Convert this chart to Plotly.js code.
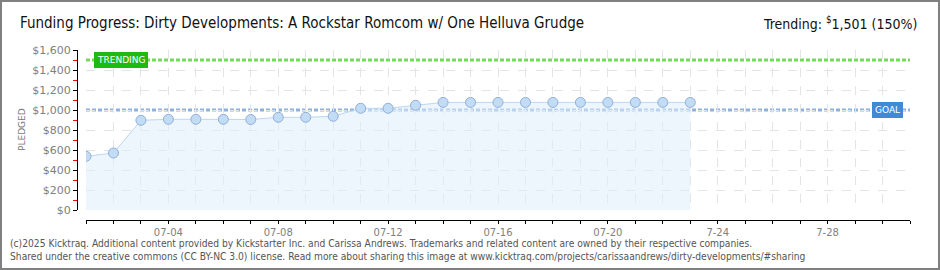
<!DOCTYPE html>
<html>
<head>
<meta charset="utf-8">
<script src="https://cdn.plot.ly/plotly-3.0.1.min.js"></script>
<style>
  html, body { margin: 0; padding: 0; background: #fff; }
  #wrap { position: relative; width: 940px; height: 270px; }
  #chart { width: 940px; height: 270px; }
  #frame { position: absolute; left: 0; top: 0; width: 940px; height: 270px; box-sizing: border-box; border: 2px solid #808080; pointer-events: none; }
</style>
</head>
<body>
<div id="wrap"><div id="chart"></div><div id="frame"></div></div>
<script>
// ---- data ----
const dates = ['2025-07-01','2025-07-02','2025-07-03','2025-07-04','2025-07-05','2025-07-06','2025-07-07','2025-07-08','2025-07-09','2025-07-10','2025-07-11','2025-07-12','2025-07-13','2025-07-14','2025-07-15','2025-07-16','2025-07-17','2025-07-18','2025-07-19','2025-07-20','2025-07-21','2025-07-22','2025-07-23'];
const pledged = [537, 570, 897, 907, 907, 907, 905, 927, 927, 937, 1017, 1017, 1047, 1076, 1076, 1076, 1076, 1076, 1076, 1076, 1076, 1076, 1076];
const goal = 1000;
const trending = 1501;
const campaignStart = '2025-07-01';
const campaignEnd = '2025-07-31';
const tickDays = ['2025-07-01','2025-07-02','2025-07-03','2025-07-04','2025-07-05','2025-07-06','2025-07-07','2025-07-08','2025-07-09','2025-07-10','2025-07-11','2025-07-12','2025-07-13','2025-07-14','2025-07-15','2025-07-16','2025-07-17','2025-07-18','2025-07-19','2025-07-20','2025-07-21','2025-07-22','2025-07-23','2025-07-24','2025-07-25','2025-07-26','2025-07-27','2025-07-28','2025-07-29','2025-07-30','2025-07-31'];
const tickLabels = [' ',' ',' ','07-04',' ',' ',' ','07-08',' ',' ',' ','07-12',' ',' ',' ','07-16',' ',' ',' ','07-20',' ',' ',' ','7-24',' ',' ',' ','7-28',' ',' ',' '];
const titleText = 'Funding Progress: Dirty Developments: A Rockstar Romcom w/ One Helluva Grudge';
const trendText = 'Trending: <sup>$</sup>1,501 (150%)';
const footer1 = '(c)2025 Kicktraq. Additional content provided by Kickstarter Inc. and Carissa Andrews. Trademarks and related content are owned by their respective companies.';
const footer2 = 'Shared under the creative commons (CC BY-NC 3.0) license. Read more about sharing this image at www.kicktraq.com/projects/carissaandrews/dirty-developments/#sharing';

const W = 940, H = 270;
const px = v => v / W;
const py = v => 1 - v / H;

const trace = {
  x: dates, y: pledged, type: 'scatter', mode: 'lines+markers',
  fill: 'tozeroy', fillcolor: 'rgba(222,236,252,0.55)',
  line: { color: '#bcd7f3', width: 1 },
  marker: { size: 10, color: '#c3dcf6', line: { color: '#90afd6', width: 1 } },
  hoverinfo: 'skip'
};

const pixFont = 'DejaVu Sans, sans-serif';
const condFont = 'DejaVu Sans Condensed, DejaVu Sans, sans-serif';

const layout = {
  width: W, height: H,
  margin: { l: 0, r: 0, t: 0, b: 0 },
  paper_bgcolor: '#fff', plot_bgcolor: '#fff',
  showlegend: false,
  xaxis: {
    type: 'date', range: [campaignStart, campaignEnd],
    domain: [px(86), px(910)], anchor: 'free', position: 1 - 220 / H,
    showline: true, linecolor: '#000', linewidth: 1,
    ticks: 'outside', ticklen: 3, tickcolor: '#000',
    tickmode: 'array', tickvals: tickDays, ticktext: tickLabels,
    tickfont: { family: pixFont, size: 10, color: '#808080' },
    showgrid: true, gridcolor: '#e4e4e4', griddash: 'dash', gridwidth: 1,
    zeroline: false, automargin: false, fixedrange: true
  },
  yaxis: {
    range: [0, 1600], domain: [60 / H, 220 / H], anchor: 'free', position: px(77),
    showline: true, linecolor: '#000', linewidth: 1,
    ticks: 'outside', ticklen: 4, tickcolor: '#000',
    dtick: 200, tick0: 0, tickprefix: '$', tickformat: ',d',
    minor: { dtick: 100, ticks: 'outside', ticklen: 4, tickcolor: '#ff0000', showgrid: false },
    tickfont: { family: pixFont, size: 11, color: '#808080' },
    showgrid: true, gridcolor: '#e4e4e4', griddash: 'dash', gridwidth: 1,
    zeroline: false, automargin: false, fixedrange: true
  },
  shapes: [
    { type: 'line', xref: 'x', yref: 'y', x0: campaignStart, x1: campaignEnd, y0: goal, y1: goal,
      line: { color: '#8db2df', width: 3, dash: '4px,2px' }, layer: 'below' },
    { type: 'line', xref: 'x', yref: 'y', x0: campaignStart, x1: campaignEnd, y0: trending, y1: trending,
      line: { color: '#74d85a', width: 3, dash: '4px,2px' }, layer: 'below' }
  ],
  annotations: [
    { xref: 'paper', yref: 'paper', x: px(18), y: py(23), xanchor: 'left', yanchor: 'middle',
      text: titleText, showarrow: false,
      font: { family: condFont, size: 15, color: '#111' } },
    { xref: 'paper', yref: 'paper', x: px(919), y: py(23), xanchor: 'right', yanchor: 'middle',
      text: trendText, showarrow: false,
      font: { family: condFont, size: 14, color: '#111' } },
    { xref: 'paper', yref: 'paper', x: px(22), y: py(130), xanchor: 'center', yanchor: 'middle',
      text: 'PLEDGED', textangle: -90, showarrow: false,
      font: { family: pixFont, size: 9, color: '#777' } },
    { xref: 'paper', yref: 'y', x: px(120.5), y: trending, xanchor: 'center', yanchor: 'middle',
      text: 'TRENDING', showarrow: false, bgcolor: '#1fba10', bordercolor: '#1fba10', borderpad: 2, borderwidth: 1,
      font: { family: pixFont, size: 9, color: '#fff' } },
    { xref: 'paper', yref: 'y', x: px(887.5), y: goal, xanchor: 'center', yanchor: 'middle',
      text: 'GOAL', showarrow: false, bgcolor: '#3f8ad8', bordercolor: '#3f8ad8', borderpad: 2, borderwidth: 1,
      font: { family: pixFont, size: 9, color: '#fff' } },
    { xref: 'paper', yref: 'paper', x: px(8), y: py(243), xanchor: 'left', yanchor: 'middle',
      text: footer1, showarrow: false,
      font: { family: condFont, size: 10.2, color: '#555' } },
    { xref: 'paper', yref: 'paper', x: px(8), y: py(256), xanchor: 'left', yanchor: 'middle',
      text: footer2, showarrow: false,
      font: { family: condFont, size: 10.2, color: '#555' } }
  ]
};

Plotly.newPlot('chart', [trace], layout, { staticPlot: true, displayModeBar: false });
</script>
</body>
</html>
